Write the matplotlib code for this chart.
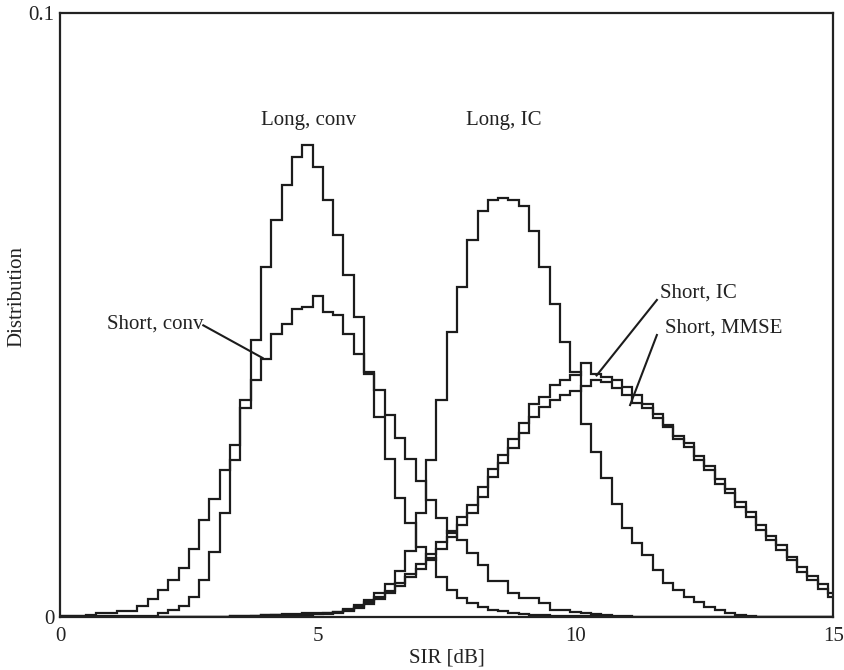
import numpy as np
import matplotlib.pyplot as plt

plt.rcParams['font.family'] = ['Liberation Serif', 'DejaVu Serif']

# histogram bin centres (dB) (x 1e-3)
sir_centres = np.arange(0, 15.01, 0.2)

long_conv = np.array([
    0.1, 0.1, 0.1, 0.1, 0.1, 0.1, 0.1, 0.1, 0.2, 0.2,
    0.7, 1.2, 1.9, 3.4, 6.2, 10.8, 17.2, 26.0, 35.9, 45.8,
    58.0, 65.7, 71.5, 76.2, 78.1, 74.5, 69.0, 63.2, 56.6, 49.7,
    40.6, 33.2, 26.2, 19.7, 15.5, 11.6, 9.8, 6.7, 4.5, 3.1,
    2.3, 1.7, 1.2, 1.0, 0.7, 0.5, 0.4, 0.3, 0.2, 0.2,
    0.1, 0.1, 0.1, 0, 0, 0, 0, 0, 0, 0,
    0, 0, 0, 0, 0, 0, 0, 0, 0, 0,
    0, 0, 0, 0, 0, 0]) / 1000

short_conv = np.array([
    0.2, 0.2, 0.2, 0.3, 0.7, 0.7, 1.0, 1.0, 1.8, 3.0,
    4.5, 6.2, 8.1, 11.3, 16.0, 19.6, 24.4, 28.5, 34.6, 39.2,
    42.8, 46.9, 48.6, 51.0, 51.4, 53.1, 50.5, 50.0, 46.9, 43.6,
    40.3, 37.6, 33.5, 29.6, 26.1, 22.5, 19.4, 16.4, 13.9, 12.8,
    10.6, 8.7, 5.9, 5.9, 4.0, 3.1, 3.1, 2.3, 1.2, 1.1,
    0.8, 0.6, 0.5, 0.3, 0.2, 0.1, 0, 0, 0, 0,
    0, 0, 0, 0, 0, 0, 0, 0, 0, 0,
    0, 0, 0, 0, 0, 0]) / 1000

long_ic = np.array([
    0, 0, 0, 0, 0, 0, 0, 0, 0, 0,
    0, 0, 0, 0, 0, 0, 0, 0, 0, 0.2,
    0.3, 0.4, 0.5, 0.5, 0.6, 0.6, 0.7, 0.9, 1.4, 2.0,
    2.9, 4.0, 5.4, 7.6, 10.9, 17.2, 26.0, 36.0, 47.2, 54.7,
    62.4, 67.2, 69.0, 69.3, 69.0, 68.0, 64.0, 58.0, 51.9, 45.6,
    40.6, 32.0, 27.4, 23.0, 18.8, 14.7, 12.2, 10.3, 7.8, 5.6,
    4.5, 3.4, 2.5, 1.7, 1.2, 0.6, 0.3, 0.1, 0, 0,
    0, 0, 0, 0, 0, 0]) / 1000

short_ic = np.array([
    0, 0, 0, 0, 0, 0, 0, 0, 0, 0,
    0, 0, 0, 0, 0, 0, 0, 0.1, 0.2, 0.2,
    0.3, 0.3, 0.4, 0.4, 0.5, 0.5, 0.6, 0.8, 1.2, 1.7,
    2.5, 3.3, 4.3, 5.6, 7.2, 8.8, 10.4, 12.4, 14.3, 16.5,
    18.6, 21.6, 24.5, 26.8, 29.4, 32.2, 35.2, 36.5, 38.4, 39.2,
    40.0, 42.0, 40.3, 39.8, 39.2, 38.1, 36.8, 35.2, 33.7, 31.5,
    29.9, 28.2, 26.0, 24.3, 22.1, 20.5, 18.3, 16.6, 14.4, 12.7,
    11.1, 9.4, 7.5, 6.1, 4.7, 3.4]) / 1000

short_mmse = np.array([
    0, 0, 0, 0, 0, 0, 0, 0, 0, 0,
    0, 0, 0, 0, 0, 0, 0, 0.1, 0.1, 0.2,
    0.2, 0.3, 0.3, 0.4, 0.4, 0.5, 0.5, 0.7, 1.0, 1.5,
    2.2, 3.0, 4.0, 5.2, 6.6, 8.0, 9.5, 11.3, 13.2, 15.2,
    17.2, 19.8, 23.2, 25.5, 28.0, 30.5, 33.2, 34.8, 36.0, 36.8,
    37.5, 38.3, 39.2, 39.0, 38.0, 36.8, 35.5, 34.6, 33.0, 31.8,
    29.5, 28.8, 26.6, 25.0, 22.9, 21.2, 19.0, 17.4, 15.2, 13.5,
    11.9, 10.0, 8.3, 6.8, 5.4, 4.0]) / 1000

edges = np.concatenate([sir_centres - 0.1, [sir_centres[-1] + 0.1]])

fig = plt.figure(figsize=(8.45, 6.7), dpi=100)
ax = fig.add_axes([0.071, 0.079, 0.915, 0.9015])

for vals in [long_conv, short_conv, long_ic, short_ic, short_mmse]:
    ax.stairs(vals, edges, baseline=None, color='#1c1c1c', lw=1.6)

ax.set_xlim(0, 15)
ax.set_ylim(0, 0.1)
ax.set_xticks([0, 5, 10, 15])
ax.set_yticks([0, 0.1])
ax.set_yticklabels(['0', '0.1'])
ax.tick_params(length=0, labelsize=15, colors='#222222')
ax.tick_params(axis='x', pad=7)
ax.tick_params(axis='y', pad=4)
for sp in ax.spines.values():
    sp.set_linewidth(1.6)
    sp.set_color('#222222')

ax.set_xlabel('SIR [dB]', fontsize=15, labelpad=2, color='#222222')
ax.set_ylabel('Distribution', fontsize=15, color='#222222', va='center')
ax.yaxis.set_label_coords(-0.056, 0.53)

txt = dict(fontsize=15, color='#222222')
ax.text(4.82, 0.0822, 'Long, conv', ha='center', va='center', **txt)
ax.text(8.6, 0.0822, 'Long, IC', ha='center', va='center', **txt)
ax.text(0.91, 0.0485, 'Short, conv', ha='left', va='center', **txt)
ax.text(11.64, 0.0536, 'Short, IC', ha='left', va='center', **txt)
ax.text(11.74, 0.0478, 'Short, MMSE', ha='left', va='center', **txt)

line = dict(color='#1c1c1c', lw=1.5)
ax.plot([2.78, 3.93], [0.0483, 0.0429], **line)
ax.plot([11.58, 10.41], [0.0525, 0.0400], **line)
ax.plot([11.58, 11.06], [0.0467, 0.0351], **line)

plt.savefig('out.png', dpi=100)
plt.close()
